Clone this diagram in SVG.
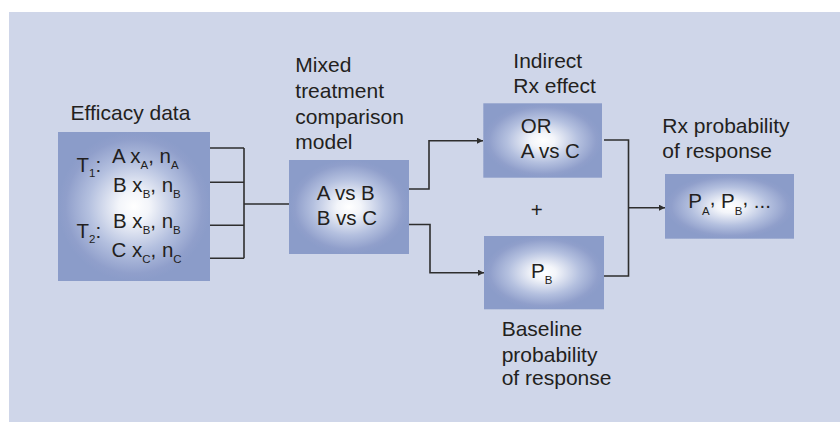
<svg xmlns="http://www.w3.org/2000/svg" width="840" height="422" viewBox="0 0 840 422">
  <style>
    text { font-family: "Liberation Sans", Arial, sans-serif; fill: #231F20; }
    .lbl { font-size: 21px; }
    .in { font-size: 20.5px; }
    .sub { font-size: 11.5px; }
    .box { fill: url(#glow); }
    .wire { fill: none; stroke: #2E2E2E; stroke-width: 1.6; }
    .arrow { fill: none; stroke: #2E2E2E; stroke-width: 1.6; marker-end: url(#head); }
  </style>
  <defs>
    <radialGradient id="glow" cx="0.5" cy="0.5" r="0.5">
      <stop offset="0" stop-color="#FFFFFF"/>
      <stop offset="0.2" stop-color="#F3F5FA"/>
      <stop offset="0.6" stop-color="#B4C0DF"/>
      <stop offset="0.9" stop-color="#909FCB"/>
      <stop offset="1" stop-color="#8B9CC9"/>
    </radialGradient>
    <marker id="head" viewBox="0 0 10 10" refX="10" refY="5" markerWidth="8" markerHeight="6" markerUnits="userSpaceOnUse" orient="auto">
      <path d="M0,0 L10,5 L0,10 Z" fill="#2E2E2E"/>
    </marker>
  </defs>

  <!-- panel -->
  <rect x="9" y="12" width="831" height="410" fill="#CFD6E9"/>

  <!-- connectors -->
  <g id="connectors">
    <path class="wire" d="M210,148 H244 M210,182.3 H244 M210,225.3 H244 M210,258.3 H244 M244,148 V258.3 M244,204 H289"/>
    <path class="arrow" d="M409,189 H429 V140.7 H483"/>
    <path class="arrow" d="M409,224.5 H430 V272.7 H484"/>
    <path class="wire" d="M604,140 H628.5 V276 H604"/>
    <path class="arrow" d="M628.5,207.7 H665"/>
  </g>

  <!-- efficacy data -->
  <g id="efficacy">
    <text class="lbl" x="70.5" y="120">Efficacy data</text>
    <rect class="box" x="58" y="132" width="152" height="149"/>
    <text class="in" x="76.5" y="172">T<tspan class="sub" dy="5">1</tspan><tspan dy="-5">:</tspan></text>
    <text class="in" x="112" y="162.7">A x<tspan class="sub" dy="6">A</tspan><tspan dy="-6">, n</tspan><tspan class="sub" dy="6">A</tspan></text>
    <text class="in" x="113" y="191.7">B x<tspan class="sub" dy="6">B</tspan><tspan dy="-6">, n</tspan><tspan class="sub" dy="6">B</tspan></text>
    <text class="in" x="76.5" y="238.3">T<tspan class="sub" dy="5">2</tspan><tspan dy="-5">:</tspan></text>
    <text class="in" x="113" y="228.3">B x<tspan class="sub" dy="6">B</tspan><tspan dy="-6">, n</tspan><tspan class="sub" dy="6">B</tspan></text>
    <text class="in" x="111.5" y="256.7">C x<tspan class="sub" dy="6">C</tspan><tspan dy="-6">, n</tspan><tspan class="sub" dy="6">C</tspan></text>
  </g>

  <!-- mixed treatment comparison model -->
  <g id="mtc">
    <text class="lbl" x="295.3" y="72.3">Mixed</text>
    <text class="lbl" x="295.3" y="98.3">treatment</text>
    <text class="lbl" x="295.3" y="124">comparison</text>
    <text class="lbl" x="295.3" y="149.3">model</text>
    <rect class="box" x="289" y="160" width="120" height="94"/>
    <text class="in" x="316.7" y="200">A vs B</text>
    <text class="in" x="316.7" y="225">B vs C</text>
  </g>

  <!-- indirect treatment effect -->
  <g id="indirect">
    <text class="lbl" x="513.3" y="67.7">Indirect</text>
    <text class="lbl" x="513.3" y="93.3">Rx effect</text>
    <rect class="box" x="483.3" y="103.3" width="118.7" height="74.4"/>
    <text class="in" x="520.7" y="132.7">OR</text>
    <text class="in" x="520.7" y="158.3">A vs C</text>
  </g>

  <text id="plus" class="in" x="536.7" y="217" text-anchor="middle">+</text>

  <!-- baseline probability -->
  <g id="baseline">
    <rect class="box" x="484" y="236" width="120" height="73.3"/>
    <text class="in" x="531" y="277.7">P<tspan class="sub" dy="6">B</tspan></text>
    <text class="lbl" x="501.7" y="336">Baseline</text>
    <text class="lbl" x="501.7" y="361.7">probability</text>
    <text class="lbl" x="501.7" y="385">of response</text>
  </g>

  <!-- treatment probability of response -->
  <g id="result">
    <text class="lbl" x="662.3" y="133.3">Rx probability</text>
    <text class="lbl" x="662.3" y="158.3">of response</text>
    <rect class="box" x="665" y="174" width="129" height="64.7"/>
    <text class="in" x="688.3" y="208.3">P<tspan class="sub" dy="6.5">A</tspan><tspan dy="-10">,</tspan><tspan dy="3.5"> P</tspan><tspan class="sub" dy="6.5">B</tspan><tspan dy="-10">,</tspan><tspan dy="3.5"> ...</tspan></text>
  </g>
</svg>
